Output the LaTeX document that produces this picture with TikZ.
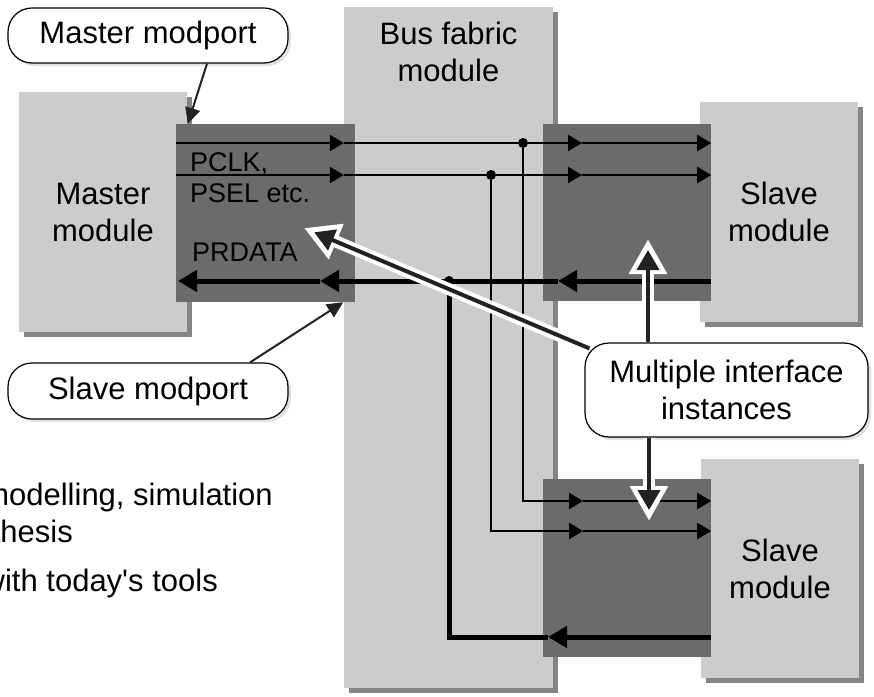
\documentclass[tikz,border=0pt]{standalone}
\usepackage{fontspec}
\setmainfont{Liberation Sans}
\usetikzlibrary{arrows.meta,shadows}
\definecolor{modgray}{HTML}{CCCCCC}
\definecolor{ifgray}{HTML}{6B6B6B}
\definecolor{shadgray}{HTML}{858585}
\definecolor{ptrgray}{HTML}{222222}
\tikzset{
  module/.style={fill=modgray, align=center, inner sep=0pt, font=\fontsize{31}{37}\selectfont,
    drop shadow={fill=shadgray, opacity=1, shadow xshift=4.5pt, shadow yshift=-4.5pt}},
  ifbox/.style={fill=ifgray, inner sep=0pt},
  callout/.style={draw, line width=1.2pt, fill=white, rounded corners=24pt, align=center,
    font=\fontsize{31}{37}\selectfont,
    drop shadow={fill=black!12, opacity=1, shadow xshift=3pt, shadow yshift=-3pt}},
  sig/.style={line width=2.4pt, -{Triangle[length=14pt,width=16pt]}},
  wire/.style={line width=2.4pt},
  ret/.style={line width=5pt, -{Triangle[length=19pt,width=21pt]}},
  retwire/.style={line width=5pt},
  pointer/.style={draw=ptrgray, line width=2pt, -{Triangle[length=16pt,width=15pt]}},
  hollow/.style={white, line width=12pt, -{Triangle[length=35pt,width=36pt]}},
  hollowcore/.style={ptrgray, line width=4pt, shorten >=11pt, -{Triangle[length=20pt,width=22pt]}},
}
\begin{document}
\begin{tikzpicture}[x=1pt,y=-1pt]
	\useasboundingbox (0,0) rectangle (874,696);
	\clip (0,0) rectangle (874,696);

	% modules
	\node[module, minimum width=209pt, minimum height=681pt] (bus) at (448.5,347.5) {};
	\node[font=\fontsize{31}{37}\selectfont, align=center, anchor=north, inner sep=0pt] (buslbl) at ([yshift=-15pt]bus.north) {Bus fabric\\module};
	\node[module, minimum width=168pt, minimum height=240pt] (master) at (103,212) {Master\\module};
	\node[module, minimum width=158pt, minimum height=220pt] (slaveA) at (779,212) {Slave\\module};
	\node[module, minimum width=158pt, minimum height=219pt] (slaveB) at (780,568.5) {Slave\\module};

	% interface instances
	\node[ifbox, minimum width=179pt, minimum height=178pt] (mif) at (265.5,213) {};
	\node[ifbox, minimum width=168pt, minimum height=177pt] (sifA) at (627,212.5) {};
	\node[ifbox, minimum width=168pt, minimum height=178pt] (sifB) at (627,568) {};

	\node[anchor=north west, inner sep=0pt, align=left, font=\fontsize{27}{31}\selectfont] (psel) at (190,152) {PCLK,\\PSEL etc.};
	\node[anchor=base west, inner sep=0pt, font=\fontsize{27}{31}\selectfont] (prdata) at (192,261.7) {PRDATA};

	% taps on the fabric
	\coordinate (tapA) at (523,143);
	\coordinate (tapB) at (491,175);
	\coordinate (tapR) at (449,281);

	% request signals
	\foreach \y in {143,175}{
		\draw[sig] (mif.west |- 0,\y) -- (bus.west |- 0,\y);
		\draw[sig] (bus.west |- 0,\y) -- (582,\y);
		\draw[sig] (582,\y) -- (sifA.east |- 0,\y);
	}
	\draw[wire] (tapA) -- (523,501) -- (sifB.west |- 0,501);
	\draw[sig] (sifB.west |- 0,501) -- (583,501);
	\draw[sig] (583,501) -- (sifB.east |- 0,501);
	\draw[wire] (tapB) -- (491,531) -- (sifB.west |- 0,531);
	\draw[sig] (sifB.west |- 0,531) -- (583,531);
	\draw[sig] (583,531) -- (sifB.east |- 0,531);

	% read data
	\draw[ret] (sifA.east |- tapR) -- (558,281);
	\draw[ret] (558,281) -- (320,281);
	\draw[ret] (320,281) -- (178,281);
	\draw[ret] (sifB.east |- 0,637) -- (548,637);
	\draw[retwire] (548,637) -| (tapR);

	\fill (tapA) circle[radius=5pt];
	\fill (tapB) circle[radius=5pt];
	\fill (tapR) circle[radius=5pt];

	% callouts
	\node[callout, minimum width=280pt, minimum height=55pt] (mmp) at (148,35.5) {Master modport};
	\node[callout, minimum width=280pt, minimum height=56pt] (smp) at (148,391) {Slave modport};
	\node[callout, minimum width=283pt, minimum height=94pt] (mii) at (726.5,390) {Multiple interface\\instances};

	\draw[pointer] ([xshift=59pt]mmp.south) -- ([xshift=12pt]mif.north west);
	\draw[pointer] ([xshift=102pt]smp.north) -- ([xshift=-12pt]mif.south east);

	\coordinate (prdTip) at (304,228);
	\coordinate (upTip) at (648,239);
	\coordinate (downTip) at (649,521);
	\draw[hollow] ([shift={(5pt,-6pt)}]mii.north west) -- (prdTip);
	\draw[hollowcore] ([shift={(5pt,-6pt)}]mii.north west) -- (prdTip);
	\draw[hollow] ([xshift=-78.5pt]mii.north) -- (upTip);
	\draw[hollowcore] ([xshift=-78.5pt]mii.north) -- (upTip);
	\draw[hollow] ([xshift=-77.5pt]mii.south) -- (downTip);
	\draw[hollowcore] ([xshift=-77.5pt]mii.south) -- (downTip);

	% slide text behind the picture
	\node[anchor=base east, inner sep=0pt, font=\fontsize{31}{37}\selectfont] (txtA) at (273,505) {modelling, simulation};
	\node[anchor=base east, inner sep=0pt, font=\fontsize{31}{37}\selectfont] (txtB) at (73,542) {thesis};
	\node[anchor=base east, inner sep=0pt, font=\fontsize{31}{37}\selectfont] (txtC) at (218,591) {with today\textquotesingle s tools};
\end{tikzpicture}
\end{document}
